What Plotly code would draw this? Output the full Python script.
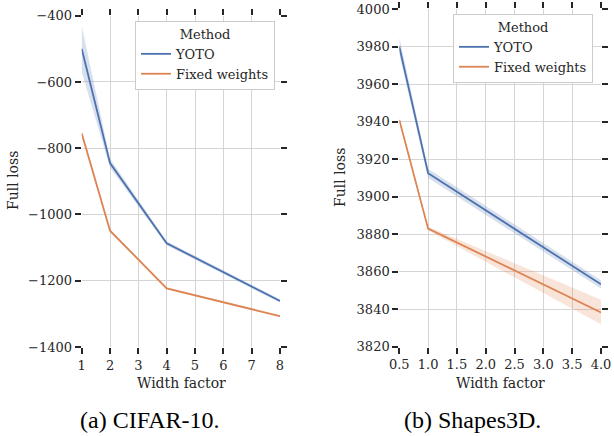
import plotly.graph_objects as go

# CIFAR-10
cifar_x = [1, 2, 4, 8]
cifar_yoto = [-500, -845, -1087, -1261]
cifar_yoto_lo = [-570, -858, -1093, -1266]
cifar_yoto_hi = [-430, -832, -1081, -1256]
cifar_fixed = [-755, -1049, -1223, -1307]
cifar_fixed_lo = [-760, -1052, -1226, -1310]
cifar_fixed_hi = [-750, -1046, -1220, -1304]

# Shapes3D
shapes_x = [0.5, 1.0, 4.0]
shapes_yoto = [3980, 3912.5, 3853.3]
shapes_yoto_lo = [3976, 3910, 3851]
shapes_yoto_hi = [3985, 3915, 3855.5]
shapes_fixed = [3941, 3883, 3838.3]
shapes_fixed_lo = [3940, 3882, 3832]
shapes_fixed_hi = [3942, 3884, 3845]

BLUE = "#4c72b0"
ORANGE = "#dd8452"
BLUE_F = "rgba(76,114,176,0.22)"
ORANGE_F = "rgba(221,132,82,0.22)"

W, H = 614, 436
fig = go.Figure()

def add_panel(xs, ys_list, xa, ya, legend):
    for name, y, lo, hi, col, fc in ys_list:
        fig.add_trace(go.Scatter(
            x=list(xs) + list(xs)[::-1], y=list(hi) + list(lo)[::-1],
            fill="toself", fillcolor=fc, line=dict(width=0), mode="lines",
            hoverinfo="skip", showlegend=False, xaxis=xa, yaxis=ya))
    for name, y, lo, hi, col, fc in ys_list:
        fig.add_trace(go.Scatter(
            x=xs, y=y, mode="lines", name=name, line=dict(color=col, width=1.8),
            xaxis=xa, yaxis=ya, legend=legend))

add_panel(cifar_x, [("YOTO", cifar_yoto, cifar_yoto_lo, cifar_yoto_hi, BLUE, BLUE_F),
                    ("Fixed weights", cifar_fixed, cifar_fixed_lo, cifar_fixed_hi, ORANGE, ORANGE_F)],
          "x", "y", "legend")
add_panel(shapes_x, [("YOTO", shapes_yoto, shapes_yoto_lo, shapes_yoto_hi, BLUE, BLUE_F),
                     ("Fixed weights", shapes_fixed, shapes_fixed_lo, shapes_fixed_hi, ORANGE, ORANGE_F)],
          "x2", "y2", "legend2")

SERIF = "DejaVu Serif"
font_ax = dict(family=SERIF, size=13, color="#262626")
font_lab = dict(family=SERIF, size=14, color="#262626")
common = dict(showgrid=True, gridcolor="#d5d5d5", gridwidth=1, zeroline=False,
              showline=False, ticks="outside", ticklen=6, tickwidth=1.5,
              tickcolor="#262626", mirror="ticks", tickfont=font_ax,
              automargin=False)

cap_font = dict(family="Liberation Serif", size=24, color="black")


def txt(text, x, y, font, angle=0):
    return dict(text=text, x=x / W, y=1 - y / H, xref="paper", yref="paper",
                xanchor="center", yanchor="middle", showarrow=False,
                font=font, textangle=angle)


fig.update_layout(
    width=W, height=H, margin=dict(l=0, r=0, t=0, b=0),
    paper_bgcolor="white", plot_bgcolor="white",
    xaxis=dict(domain=[81.7 / W, 280 / W], range=[1, 8], tickvals=[1, 2, 3, 4, 5, 6, 7, 8],
               anchor="y", **common),
    yaxis=dict(domain=[1 - 347 / H, 1 - 15.7 / H], range=[-1400, -400], dtick=200,
               anchor="x", **common),
    xaxis2=dict(domain=[399.3 / W, 601 / W], range=[0.5, 4.0], dtick=0.5, tickformat=".1f",
                anchor="y2", **common),
    yaxis2=dict(domain=[1 - 346.7 / H, 1 - 9.3 / H], range=[3820, 4000], dtick=20,
                anchor="x2", **common),
    legend=dict(x=135 / W, y=1 - 21 / H, xanchor="left", yanchor="top",
                bgcolor="white", bordercolor="#cccccc", borderwidth=1,
                font=font_ax, title=dict(text="Method", side="top center", font=font_ax),
                tracegroupgap=0),
    legend2=dict(x=453 / W, y=1 - 14 / H, xanchor="left", yanchor="top",
                 bgcolor="white", bordercolor="#cccccc", borderwidth=1,
                 font=font_ax, title=dict(text="Method", side="top center", font=font_ax),
                 tracegroupgap=0),
    annotations=[
        txt("Width factor", 181, 383, font_lab),
        txt("Width factor", 500, 383, font_lab),
        txt("Full loss", 13, 181, font_lab, -90),
        txt("Full loss", 340, 178, font_lab, -90),
        txt("(a) CIFAR-10.", 150, 420, cap_font),
        txt("(b) Shapes3D.", 472, 420, cap_font),
    ],
)

fig.write_html("out.html")
